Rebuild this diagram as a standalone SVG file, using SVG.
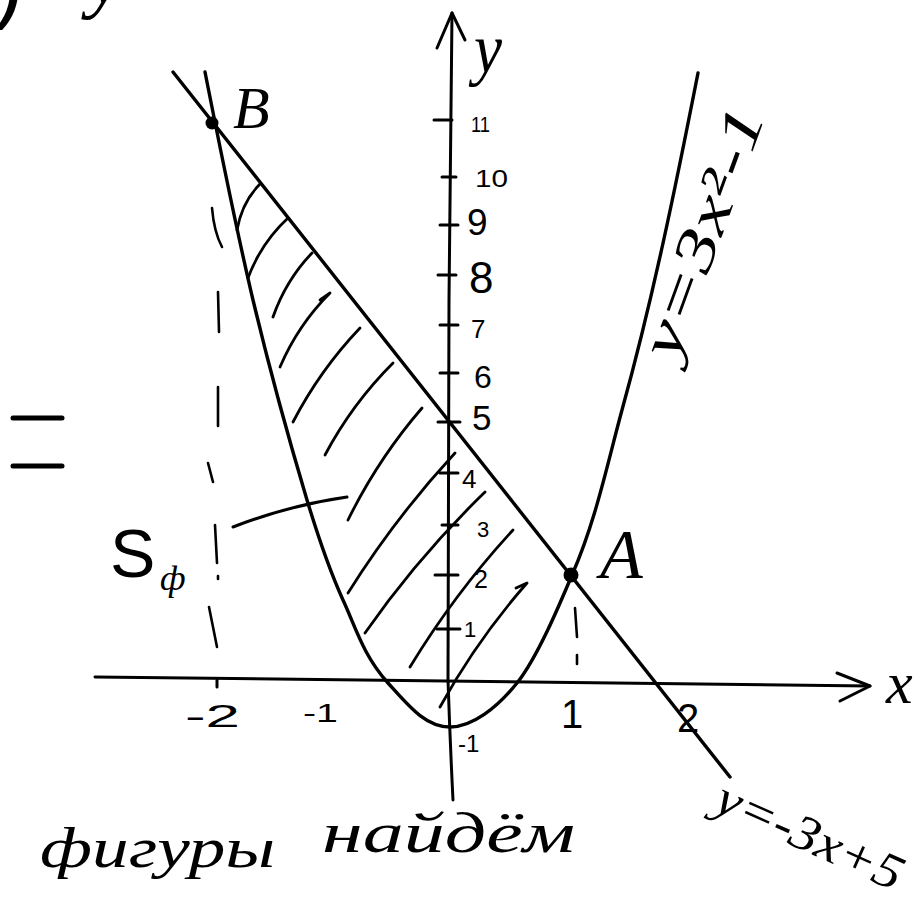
<svg xmlns="http://www.w3.org/2000/svg" width="919" height="900" viewBox="0 0 919 900">
<style>
.s{stroke:#000;fill:none;stroke-linecap:round;stroke-linejoin:round}
.ax{stroke-width:3}
.cv{stroke-width:3.4}
.h{stroke-width:2.8}
.d{stroke-width:2.6}
.n{font-family:"Liberation Sans",Arial,sans-serif;fill:#000}
.i{font-family:"Liberation Serif","Times New Roman",serif;font-style:italic;fill:#000}
</style>
<rect width="919" height="900" fill="#fff"/>

<g id="top-fragments">
<text class="n" x="-6" y="11" font-size="90">)</text>
<text class="i" x="88" y="3" font-size="80">y</text>
</g>

<g id="equals">
<line class="s" x1="13" y1="418" x2="62" y2="418" stroke-width="5"/>
<line class="s" x1="13" y1="466" x2="62" y2="466" stroke-width="5"/>
</g>

<g id="hatching" class="s h">
<path d="M237,230 Q242,202 260,184"/>
<path d="M248,278 Q261,243 288,218"/>
<path d="M273,317 Q286,280 312,253"/>
<path d="M280,367 Q298,325 330,293 L320,300"/>
<path d="M293,422 Q320,370 360,328"/>
<path d="M325,455 Q352,404 393,363"/>
<path d="M348,520 Q378,459 422,408"/>
<path d="M348,593 Q395,518 455,453"/>
<path d="M365,633 Q418,557 485,492"/>
<path d="M410,667 Q455,593 513,530"/>
<path d="M440,707 Q477,640 527,583 L516,588"/>
</g>

<g id="dashed-x-2" class="s d">
<path d="M212,208 Q214,232 222,247"/>
<path d="M218,292 L219,332"/>
<path d="M218,387 L218,426"/>
<path d="M208,463 L213,482"/>
<path d="M215,525 L217,563"/>
<path d="M218,576 L218,579"/>
<path d="M209,607 L217,647"/>
</g>
<g id="dashed-x1" class="s d">
<path d="M575,608 L577,637"/>
<path d="M577,655 L577,664"/>
</g>

<g id="y-axis" class="s ax">
<path d="M452,13 L449,300 L448,680 Q450,740 453,800"/>
<path d="M437,48 L452,13 L465,40"/>
<path d="M434,120 L452,120 M442,177 L456,177 M440,225 L458,225 M438,275 L456,275 M440,325 L458,325 M440,373 L458,373 M438,422 L460,422 M440,473 L458,473 M442,525 L458,525 M435,575 L458,575 M437,629 L460,629"/>
</g>
<g id="x-axis" class="s ax">
<path d="M95,677 L870,686"/>
<path d="M837,673 L870,686 L840,701"/>
<path d="M217,680 L217,687"/>
</g>

<g id="y-labels" class="n">
<text x="474" y="72" font-size="70" textLength="28" lengthAdjust="spacingAndGlyphs" class="i">y</text>
<text x="471" y="132" font-size="22" textLength="19" lengthAdjust="spacingAndGlyphs">11</text>
<text x="475" y="187" font-size="24" textLength="33" lengthAdjust="spacingAndGlyphs">10</text>
<text x="467" y="235" font-size="37">9</text>
<text x="469" y="293" font-size="44">8</text>
<text x="471" y="338" font-size="26">7</text>
<text x="474" y="388" font-size="32">6</text>
<text x="472" y="430" font-size="35">5</text>
<text x="462" y="488" font-size="26">4</text>
<text x="477" y="537" font-size="22">3</text>
<text x="474" y="588" font-size="25">2</text>
<text x="464" y="637" font-size="22">1</text>
<text x="458" y="752" font-size="24">-1</text>
</g>
<g id="x-labels" class="n">
<text x="185" y="727" font-size="32" textLength="55" lengthAdjust="spacingAndGlyphs">-2</text>
<text x="303" y="722" font-size="26" textLength="35" lengthAdjust="spacingAndGlyphs">-1</text>
<text x="561" y="728" font-size="40">1</text>
<text x="677" y="732" font-size="40">2</text>
<text x="886" y="703" font-size="60" class="i">x</text>
</g>

<g id="parabola">
<path class="s cv" d="M205,72 C220,148 235,224 253,300 C269,367 287,433 307,500 C317,533 328,567 343,600 C356,628 363,655 388,683 C408,705 425,727 450,727 C472,727 497,708 517,683 C537,658 559,606 572,575 C596,520 607,465 622,410 C653,298 676,185 698,73"/>
<text class="i" font-size="58" transform="translate(676,362) rotate(-70)" textLength="262" lengthAdjust="spacingAndGlyphs">y=3x²-1</text>
</g>

<g id="line">
<path class="s cv" d="M173,72 L730,777"/>
<text class="i" font-size="50" transform="translate(712,810) rotate(24)" textLength="200" lengthAdjust="spacingAndGlyphs">y=-3x+5</text>
</g>

<g id="point-B">
<circle cx="212" cy="123" r="6.5" fill="#000"/>
<text class="i" x="233" y="128" font-size="60">B</text>
</g>
<g id="point-A">
<circle cx="571" cy="575" r="7.5" fill="#000"/>
<text class="i" x="600" y="578" font-size="70">A</text>
</g>

<g id="area-label">
<text class="n" x="110" y="577" font-size="68">S</text>
<text class="i" x="160" y="590" font-size="36">ф</text>
<path class="s ax" d="M233,527 Q290,505 347,497"/>
</g>

<g id="caption" class="i">
<text x="40" y="867" font-size="58" textLength="235" lengthAdjust="spacingAndGlyphs">фигуры</text>
<text x="322" y="852" font-size="58" textLength="253" lengthAdjust="spacingAndGlyphs">найдём</text>
</g>
</svg>
